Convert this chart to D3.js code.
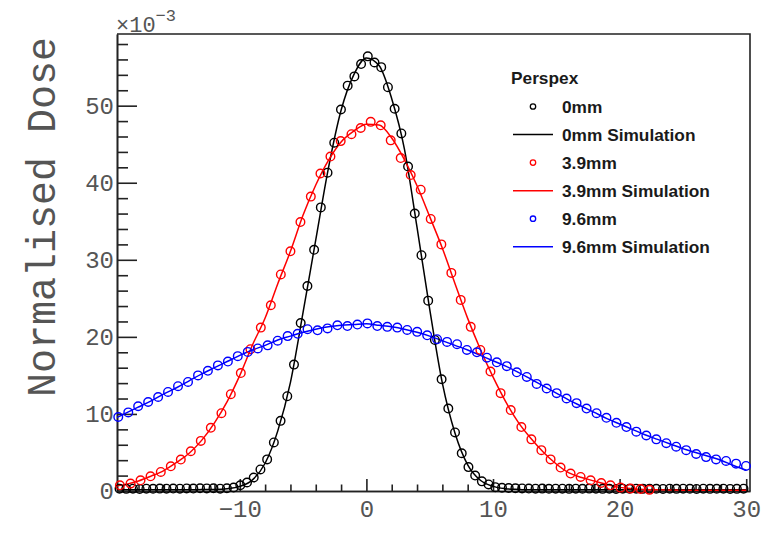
<!DOCTYPE html>
<html>
<head>
<meta charset="utf-8">
<script src="https://cdn.jsdelivr.net/npm/d3@7"></script>
<style>
  html, body { margin: 0; padding: 0; background: #fff; }
  svg { display: block; }
</style>
</head>
<body>
<div id="chart"></div>
<script>
// ---- Data (y values in units of 1e-3) ----
const xTicksMajor = [-10, 0, 10, 20, 30];
const yTicksMajor = [0, 10, 20, 30, 40, 50];
const legendTitle = "Perspex";
const legendLabels = ["0mm", "0mm Simulation", "3.9mm", "3.9mm Simulation", "9.6mm", "9.6mm Simulation"];
const seriesColors = ["#000000", "#ff0000", "#0000ff"];

const x0mm = [-19.5, -18.97, -18.44, -17.91, -17.38, -16.85, -16.32, -15.79, -15.26, -14.73, -14.2, -13.67, -13.14, -12.61, -12.08, -11.55, -11.02, -10.49, -9.96, -9.43, -8.9, -8.37, -7.84, -7.31, -6.78, -6.25, -5.72, -5.19, -4.66, -4.13, -3.6, -3.07, -2.54, -2.01, -1.48, -0.95, -0.42, 0.11, 0.64, 1.17, 1.7, 2.23, 2.76, 3.29, 3.82, 4.35, 4.88, 5.41, 5.94, 6.47, 7.0, 7.53, 8.06, 8.59, 9.12, 9.65, 10.18, 10.71, 11.24, 11.77, 12.3, 12.83, 13.36, 13.89, 14.42, 14.95, 15.48, 16.01, 16.54, 17.07, 17.6, 18.13, 18.66, 19.19, 19.72, 20.25, 20.78, 21.31, 21.84, 22.37, 22.9, 23.43, 23.96, 24.49, 25.02, 25.55, 26.08, 26.61, 27.14, 27.67, 28.2, 28.73, 29.26, 29.79];
const y0mm = [0.3, 0.28, 0.3, 0.27, 0.3, 0.29, 0.31, 0.3, 0.32, 0.3, 0.33, 0.32, 0.35, 0.34, 0.36,
  0.3, 0.35, 0.45, 0.74, 1.1, 1.75, 2.8, 4.1, 6.3, 9.1, 12.3, 16.4, 21.8, 26.6, 31.3, 36.8, 41.3, 45.2, 49.5, 52.6, 53.8, 55.4,
  56.4, 55.6, 55.0, 52.4, 49.6, 46.4, 42.1, 36.0, 30.6, 24.7, 19.6, 14.5, 10.7, 7.6, 4.9, 3.1, 2.0, 1.25, 0.85, 0.5,
  0.42, 0.38, 0.35, 0.33, 0.32, 0.3, 0.31, 0.29, 0.3, 0.3, 0.28, 0.3, 0.29, 0.31, 0.3, 0.28, 0.3, 0.27, 0.3, 0.29, 0.3, 0.28, 0.3, 0.29, 0.27, 0.3, 0.28, 0.3, 0.29, 0.27, 0.3, 0.28, 0.29, 0.3, 0.27, 0.28, 0.3];

const x39mm = [-19.47, -18.63, -17.84, -17.05, -16.24, -15.45, -14.66, -13.87, -13.08, -12.29, -11.45, -10.71, -9.92, -9.16, -8.34, -7.55, -6.76, -6.0, -5.21, -4.39, -3.63, -2.84, -2.03, -1.18, -0.45, 0.34, 1.13, 1.92, 2.71, 3.5, 4.29, 5.08, 5.92, 6.71, 7.45, 8.24, 9.0, 9.8, 10.6, 11.4, 12.24, 13.03, 13.82, 14.55, 15.34, 16.13, 16.92, 17.71, 18.55, 19.28, 20.07, 20.86, 21.65, 22.36];
const y39mm = [0.74, 0.96, 1.39, 1.91, 2.47, 3.2, 4.08, 5.16, 6.5, 8.2, 10.1, 12.56, 15.3, 18.4, 21.2, 24.1, 28.1, 31.1, 34.9, 38.2, 41.2, 43.4, 45.4, 46.3, 47.1, 47.9, 47.45, 45.5, 43.2, 41.0, 39.1, 35.3, 32.0, 28.3, 24.8, 21.3, 18.3, 15.5, 12.7, 10.5, 8.3, 6.7, 5.3, 4.1, 3.04, 2.26, 1.82, 1.39, 1.04, 0.74, 0.44, 0.31, 0.26, 0.15];

const x96mm = [-19.6, -18.81, -18.03, -17.24, -16.45, -15.67, -14.88, -14.09, -13.3, -12.52, -11.73, -10.94, -10.16, -9.37, -8.58, -7.8, -7.01, -6.22, -5.43, -4.65, -3.86, -3.07, -2.29, -1.5, -0.71, 0.08, 0.86, 1.65, 2.44, 3.22, 4.01, 4.8, 5.58, 6.37, 7.16, 7.94, 8.73, 9.52, 10.3, 11.09, 11.88, 12.67, 13.45, 14.24, 15.03, 15.81, 16.6, 17.39, 18.18, 18.96, 19.75, 20.54, 21.32, 22.11, 22.9, 23.69, 24.47, 25.26, 26.05, 26.83, 27.62, 28.41, 29.2, 29.98];
const y96mm = [9.6, 10.2, 11.0, 11.55, 12.2, 12.85, 13.6, 14.15, 15.0, 15.6, 16.3, 16.8, 17.5, 18.05, 18.5, 18.9, 19.5, 20.1, 20.4, 21.0, 20.85, 21.1, 21.5, 21.4, 21.6, 21.75, 21.4, 21.3, 21.2, 20.9, 20.65, 20.2, 19.7, 19.35, 19.05, 18.3, 18.0, 17.3, 16.7, 16.2, 15.4, 14.8, 13.9, 13.3, 12.7, 12.0, 11.4, 10.7, 10.1, 9.5, 8.85, 8.3, 7.7, 7.2, 6.7, 6.2, 5.75, 5.3, 4.8, 4.4, 4.1, 3.9, 3.55, 3.25];

const xSim = [-20, -19, -18, -17, -16, -15, -14, -13, -12, -11, -10, -9, -8, -7, -6, -5, -4, -3, -2, -1, 0, 1, 2, 3, 4, 5, 6, 7, 8, 9, 10, 11, 12, 13, 14, 15, 16, 17, 18, 19, 20, 21, 22, 23, 24, 25, 26, 27, 28, 29, 30];
const ySim0mm = [0.15, 0.15, 0.15, 0.15, 0.15, 0.15, 0.16, 0.18, 0.2, 0.3, 0.6, 1.45, 3.6, 7.8, 14.1, 23.2, 32.6, 41.9, 49.4, 54.0, 56.2, 55.2, 50.9, 44.4, 34.2, 23.6, 14.0, 7.5, 3.4, 1.4, 0.6, 0.3, 0.2, 0.15, 0.15, 0.15, 0.15, 0.15, 0.15, 0.15, 0.15, 0.15, 0.15, 0.15, 0.15, 0.15, 0.15, 0.15, 0.15, 0.15, 0.15];
const ySim39mm = [0.6, 0.86, 1.3, 1.93, 2.65, 3.7, 4.9, 6.6, 8.85, 11.6, 15.0, 18.95, 22.45, 26.9, 31.1, 35.8, 39.7, 42.9, 45.3, 46.7, 47.6, 47.5, 45.8, 43.0, 39.6, 35.6, 31.5, 26.9, 22.4, 18.4, 14.8, 11.6, 8.9, 6.8, 5.0, 3.5, 2.35, 1.75, 1.3, 0.85, 0.47, 0.3, 0.2, 0.15, 0.12, 0.1, 0.1, 0.1, 0.1, 0.1, 0.1];
const ySim96mm = [9.3, 10.1, 10.9, 11.7, 12.6, 13.4, 14.3, 15.2, 16.0, 16.8, 17.6, 18.3, 18.9, 19.6, 20.1, 20.6, 21.0, 21.3, 21.5, 21.6, 21.7, 21.5, 21.3, 21.0, 20.6, 20.1, 19.5, 18.9, 18.3, 17.6, 16.9, 16.2, 15.4, 14.5, 13.6, 12.7, 11.8, 11.0, 10.2, 9.4, 8.7, 8.0, 7.3, 6.7, 6.1, 5.5, 5.0, 4.5, 4.0, 3.3, 2.7];

// ---- Layout ----
const W = 771, H = 560;
const plot = { left: 117, right: 750, top: 34, bottom: 491 };
const monoFont = "'Liberation Mono', 'DejaVu Sans Mono', monospace";
const sansFont = "'Liberation Sans', Arial, sans-serif";

const svg = d3.select("#chart").append("svg").attr("width", W).attr("height", H);

const x = d3.scaleLinear().domain([-19.7, 30.3]).range([plot.left, plot.right]);
const y = d3.scaleLinear().domain([0, 59.3]).range([plot.bottom, plot.top]);

svg.append("defs").append("clipPath").attr("id", "clip")
  .append("rect").attr("x", plot.left).attr("y", plot.top)
  .attr("width", plot.right - plot.left).attr("height", plot.bottom - plot.top);

// frame (top & right)
svg.append("path")
  .attr("d", `M${plot.left},${plot.top}H${plot.right}V${plot.bottom}`)
  .attr("fill", "none").attr("stroke", "#222").attr("stroke-width", 1.6);

// minor ticks
const xMinor = d3.range(-18, 31, 2).filter(v => !xTicksMajor.includes(v));
const yMinor = d3.range(2, 59, 2).filter(v => !yTicksMajor.includes(v));

function styleAxis(g) {
  g.select(".domain").attr("stroke", "#222").attr("stroke-width", 1.6);
  g.selectAll(".tick line").attr("stroke", "#222").attr("stroke-width", 1.6);
  g.selectAll(".tick text").attr("fill", "#555").attr("font-family", monoFont);
}

svg.append("g").attr("transform", `translate(0,${plot.bottom})`)
  .call(d3.axisBottom(x).tickValues(xMinor).tickSize(-6.5).tickFormat("").tickSizeOuter(0))
  .call(styleAxis);
svg.append("g").attr("transform", `translate(0,${plot.bottom})`)
  .call(d3.axisBottom(x).tickValues(xTicksMajor).tickSize(-12).tickPadding(9).tickSizeOuter(0))
  .call(styleAxis)
  .call(g => g.selectAll(".tick text").attr("font-size", 24));

svg.append("g").attr("transform", `translate(${plot.left},0)`)
  .call(d3.axisLeft(y).tickValues(yMinor).tickSize(-11).tickFormat("").tickSizeOuter(0))
  .call(styleAxis);
svg.append("g").attr("transform", `translate(${plot.left},0)`)
  .call(d3.axisLeft(y).tickValues(yTicksMajor).tickSize(-20).tickPadding(3).tickSizeOuter(0))
  .call(styleAxis)
  .call(g => g.selectAll(".tick text").attr("font-size", 24));

// x10^-3
const mult = svg.append("text").attr("x", 116).attr("y", 32)
  .attr("font-family", monoFont).attr("font-size", 22).attr("fill", "#555");
mult.append("tspan").text("\u00d710");
mult.append("tspan").attr("dy", -11).attr("font-size", 17).text("\u22123");

// y title
svg.append("text")
  .attr("transform", "translate(41,217) rotate(-90)")
  .attr("text-anchor", "middle").attr("dy", "0.35em")
  .attr("font-family", monoFont).attr("font-size", 40).attr("fill", "#555")
  .text("Normalised Dose");

// ---- series ----
const simSeries = [ySim0mm, ySim39mm, ySim96mm];
const dataSeries = [[x0mm, y0mm], [x39mm, y39mm], [x96mm, y96mm]];

const line = d3.line().x(d => x(d[0])).y(d => y(d[1])).curve(d3.curveMonotoneX);
const gl = svg.append("g").attr("clip-path", "url(#clip)");
simSeries.forEach((ys, i) => {
  gl.append("path").datum(xSim.map((v, j) => [v, ys[j]]))
    .attr("d", line).attr("fill", "none")
    .attr("stroke", seriesColors[i]).attr("stroke-width", 1.5);
});

dataSeries.forEach(([xs, ys], i) => {
  svg.append("g").selectAll("circle").data(xs.map((v, j) => [v, ys[j]]))
    .join("circle")
    .attr("cx", d => x(d[0])).attr("cy", d => y(d[1])).attr("r", 4.3)
    .attr("fill", "none").attr("stroke", seriesColors[i]).attr("stroke-width", 1.4);
});

// ---- legend ----
const lg = svg.append("g");
lg.append("text").attr("x", 511).attr("y", 78).attr("dy", "0.35em")
  .attr("font-family", sansFont).attr("font-weight", "bold").attr("font-size", 17.3)
  .attr("fill", "#1a1a1a").text(legendTitle);
legendLabels.forEach((lab, i) => {
  const yy = 106.5 + 28.05 * i;
  const col = seriesColors[Math.floor(i / 2)];
  if (i % 2 === 0) {
    lg.append("circle").attr("cx", 533).attr("cy", yy).attr("r", 2.7)
      .attr("fill", "none").attr("stroke", col).attr("stroke-width", 1.3);
  } else {
    lg.append("line").attr("x1", 513).attr("x2", 553).attr("y1", yy).attr("y2", yy)
      .attr("stroke", col).attr("stroke-width", 1.5);
  }
  lg.append("text").attr("x", 562).attr("y", yy).attr("dy", "0.35em")
    .attr("font-family", sansFont).attr("font-weight", "bold").attr("font-size", 17.3)
    .attr("fill", "#1a1a1a").text(lab);
});
</script>
</body>
</html>
